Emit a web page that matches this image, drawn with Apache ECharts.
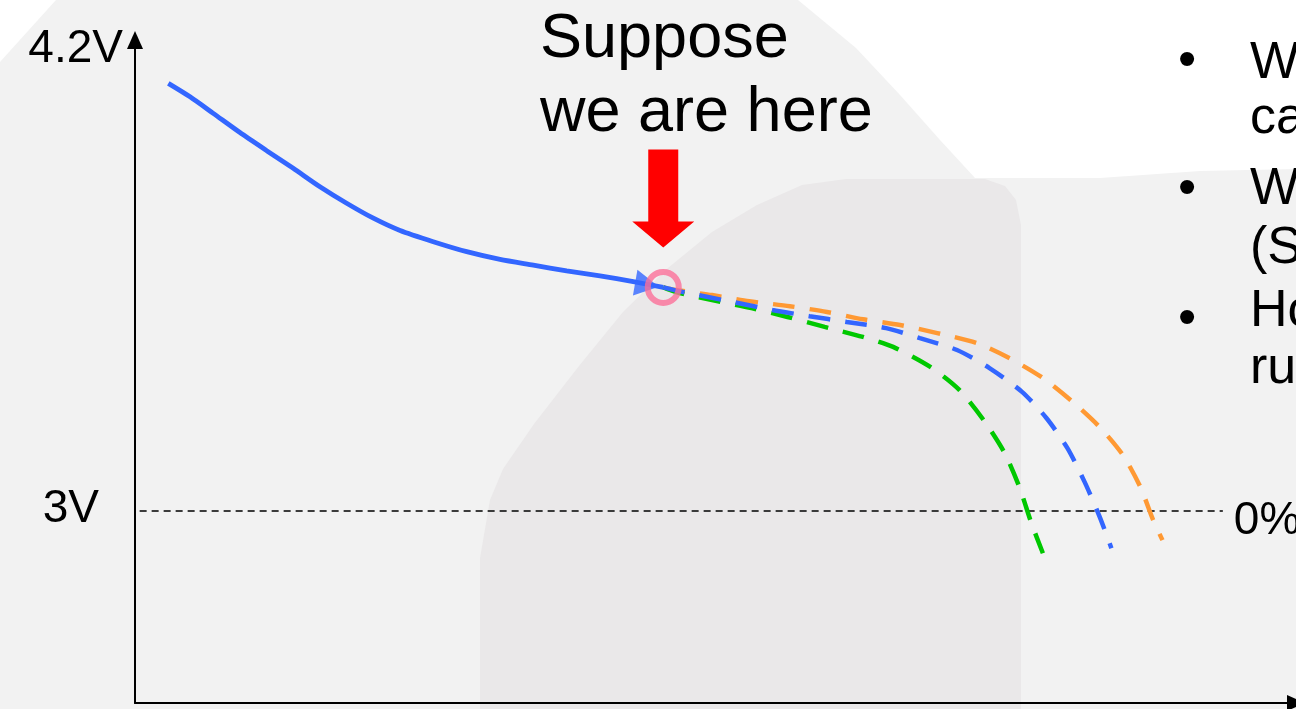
<!DOCTYPE html>
<html><head><meta charset="utf-8">
<script src="https://cdn.jsdelivr.net/npm/echarts@6/dist/echarts.min.js"></script>
<style>html,body{margin:0;padding:0;background:#f2f2f2;overflow:hidden}#c{width:1296px;height:709px}</style>
</head><body><div id="c"></div><script>
// time axis (0..100, arbitrary units) and voltage values
const solidX = [2.87, 4.74, 6.74, 9.04, 11.34, 13.63, 15.93, 18.23, 20.53, 22.83, 25.69, 28.57, 31.44, 34.31, 37.18, 40.05, 42.92, 45.5];
const solidV = [4.113, 4.078, 4.035, 3.985, 3.938, 3.892, 3.844, 3.801, 3.762, 3.730, 3.701, 3.675, 3.655, 3.640, 3.625, 3.612, 3.597, 3.582];

const blueDashX = [45.5, 47.2, 51.5, 54.9, 58.1, 61.3, 64.7, 67.6, 70.8, 73.6, 76.4, 78.5, 80.3, 81.8, 83.1, 84.1];
const blueDashV = [3.582, 3.570, 3.544, 3.523, 3.507, 3.492, 3.476, 3.450, 3.419, 3.372, 3.310, 3.242, 3.164, 3.075, 2.984, 2.903];

const orangeX = [45.5, 46.6, 49.7, 52.9, 56.4, 59.6, 62.7, 65.9, 69.1, 72.5, 75.3, 78.2, 80.8, 83.1, 85.1, 86.6, 87.7, 88.5];
const orangeV = [3.582, 3.575, 3.562, 3.546, 3.533, 3.518, 3.499, 3.484, 3.463, 3.437, 3.398, 3.346, 3.283, 3.218, 3.145, 3.062, 2.976, 2.924];

const greenX = [45.5, 46.6, 49.7, 53.1, 56.2, 59.4, 62.7, 65.3, 68.5, 71.0, 73.2, 74.9, 76.2, 77.2, 78.2];
const greenV = [3.582, 3.570, 3.549, 3.528, 3.505, 3.479, 3.453, 3.427, 3.375, 3.315, 3.232, 3.151, 3.060, 2.969, 2.890];

const cutoffX = [0.4, 93.7];
const cutoffV = [3, 3];
const currentPoint = [45.5, 3.582];
const arrowAt = [44.1, 3.589];

const yTickValues = [3, 4.2];
const yTickLabels = ['3V', '4.2V'];
const annotation = 'Suppose\nwe are here';
const cutoffLabel = '0%';
const bulletLines = ['W', 'ca', 'W', '(S', 'Ho', 'ru'];

const zip = (xs, ys) => xs.map((x, i) => [x, ys[i]]);
const FONT = '"Liberation Sans", Arial, sans-serif';

const chart = echarts.init(document.getElementById('c'), null, {renderer: 'canvas'});

const option = {
  animation: false,
  backgroundColor: '#f2f2f2',
  grid: {left: 135, right: 0, top: 40, bottom: 6},
  xAxis: {
    type: 'value', min: 0, max: 100,
    axisLine: {show: true, lineStyle: {color: '#000', width: 2}, symbol: ['none', 'triangle'], symbolSize: [16, 18]},
    axisTick: {show: false}, axisLabel: {show: false}, splitLine: {show: false}
  },
  yAxis: {
    type: 'value', min: 2.5, max: 4.226,
    axisLine: {show: true, lineStyle: {color: '#000', width: 2}, symbol: ['none', 'triangle'], symbolSize: [16, 18]},
    axisTick: {show: false}, splitLine: {show: false},
    axisLabel: {
      show: true, customValues: yTickValues, margin: 12,
      formatter: function (v) {
        const i = yTickValues.indexOf(v);
        return i === 0 ? '{b|' + yTickLabels[0] + '}' : '{a|' + yTickLabels[1] + '}';
      },
      rich: {
        a: {fontSize: 46, fontFamily: FONT, color: '#000', padding: [0, 0, 2, 0]},
        b: {fontSize: 46, fontFamily: FONT, color: '#000', padding: [0, 24, 3, 0]}
      }
    }
  },
  series: [
    {
      type: 'line', data: zip(cutoffX, cutoffV), showSymbol: false, z: 1,
      lineStyle: {color: '#000', width: 1.5, type: [7, 5]},
      endLabel: {show: true, formatter: cutoffLabel, distance: 11, fontSize: 46, fontFamily: FONT, color: '#000', offset: [0, 10]}
    },
    {
      type: 'line', data: zip(orangeX, orangeV), smooth: 0.25, showSymbol: false, z: 3,
      lineStyle: {color: '#ff9933', width: 4.5, type: [22, 15]}
    },
    {
      type: 'line', data: zip(greenX, greenV), smooth: 0.25, showSymbol: false, z: 3,
      lineStyle: {color: '#00c800', width: 4.5, type: [22, 15]}
    },
    {
      type: 'line', data: zip(blueDashX, blueDashV), smooth: 0.25, showSymbol: false, z: 4,
      lineStyle: {color: '#3366ff', width: 4.5, type: [22, 15]}
    },
    {
      type: 'line', data: zip(solidX, solidV), smooth: 0.25, showSymbol: false, z: 5,
      lineStyle: {color: '#3366ff', width: 4.8}
    },
    {
      type: 'scatter', data: [arrowAt], symbol: 'triangle', symbolSize: [26, 24], symbolRotate: -100, z: 6,
      itemStyle: {color: '#3366ff'}
    },
    {
      type: 'scatter', data: [currentPoint], symbol: 'circle', symbolSize: 31, z: 7,
      itemStyle: {color: 'rgba(0,0,0,0)', borderColor: '#fb6f98', borderWidth: 6}
    }
  ]
};
chart.setOption(option);

const p = chart.convertToPixel({gridIndex: 0}, currentPoint);
const cx = p[0], cy = p[1];

const graphics = [
  // decorative background shapes
  {type: 'polygon', z: -10, silent: true, shape: {points: [[0,0],[56,0],[0,62]]}, style: {fill: '#ffffff'}},
  {type: 'polygon', z: -10, silent: true, shape: {points: [[798,0],[1296,0],[1296,169],[1200,171],[1100,178],[975,178],[940,140],[900,95],[856,48]]}, style: {fill: '#ffffff'}},
  {type: 'polygon', z: -9, silent: true, shape: {points: [[480,709],[480,558],[490,500],[503,469],[534,424],[579,366],[623,312],[668,268],[712,232],[757,205],[802,185],[846,179],[985,179],[1005,186],[1016,200],[1021,225],[1021,709]]}, style: {fill: '#eae8e9'}},
  // red pointer arrow
  {type: 'polygon', z: 20, shape: {points: [[cx-15,cy-138],[cx+15,cy-138],[cx+15,cy-66],[cx+31,cy-66],[cx,cy-40],[cx-31,cy-66],[cx-15,cy-66]]}, style: {fill: '#ff0000'}},
  // annotation text
  {type: 'text', z: 20, x: 540, y: 3, style: {text: annotation, fontSize: 63, fontFamily: FONT, fill: '#000', lineHeight: 74, align: 'left', verticalAlign: 'top'}}
];
const baselines = [82, 137, 208, 267, 330, 387];
bulletLines.forEach((t, i) => {
  graphics.push({type: 'text', z: 20, x: 1250, y: baselines[i] - 18, style: {text: t, fontSize: 52, fontFamily: FONT, fill: '#000', align: 'left', verticalAlign: 'middle'}});
});
[62, 190, 320].forEach(y => {
  graphics.push({type: 'text', z: 20, x: 1187, y: y, style: {text: '\u2022', fontSize: 52, fontFamily: FONT, fill: '#000', align: 'center', verticalAlign: 'middle'}});
});
chart.setOption({graphic: graphics});
</script></body></html>
